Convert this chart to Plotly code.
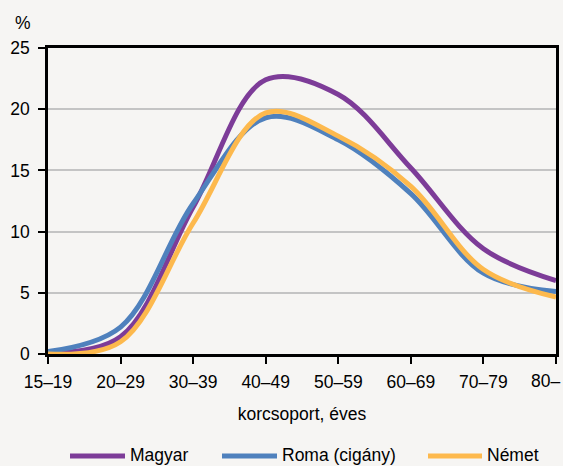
import plotly.graph_objects as go

categories = ["15–19", "20–29", "30–39", "40–49", "50–59", "60–69", "70–79", "80–"]
magyar = [0.1, 1.4, 12.0, 22.4, 21.2, 15.2, 8.6, 6.0]
roma = [0.2, 2.2, 12.3, 19.3, 17.5, 13.1, 6.6, 5.1]
nemet = [0.0, 1.0, 10.7, 19.7, 17.8, 13.7, 6.9, 4.65]

series = [("Magyar", magyar, "#7D3C98"),
          ("Roma (cigány)", roma, "#4F81BD"),
          ("Német", nemet, "#FDB94D")]

bg = "#F6F5F3"
font = "Liberation Sans, Arial, sans-serif"
fs = 17.5

# plot area in pixels (for converting layout positions to paper coords)
L, R, T, B = 48, 556, 48, 354
def px(xp):
    return (xp - L) / (R - L)
def py(yp):
    return (B - yp) / (B - T)

fig = go.Figure()
for name, vals, col in series:
    fig.add_trace(go.Scatter(
        x=list(range(len(categories))), y=vals, name=name, mode="lines",
        line=dict(color=col, width=5, shape="spline", smoothing=1.0),
        hoverinfo="skip", showlegend=False))

# legend drawn manually to match the original spacing
legend_pos = [(70, 125, 128), (222, 277, 280), (428, 482, 485)]
legend_y = 456
shapes = []
annotations = [dict(text="%", x=px(23), y=py(23), xref="paper", yref="paper",
                    xanchor="center", yanchor="middle", showarrow=False,
                    font=dict(size=fs))]
for (name, _, col), (x0, x1, xt) in zip(series, legend_pos):
    shapes.append(dict(type="line", xref="paper", yref="paper",
                       x0=px(x0), x1=px(x1), y0=py(legend_y), y1=py(legend_y),
                       line=dict(color=col, width=5)))
    annotations.append(dict(text=name, x=px(xt), y=py(legend_y - 1), xref="paper",
                            yref="paper", xanchor="left", yanchor="middle",
                            showarrow=False, font=dict(size=fs)))

# last category label is shifted left so it fits inside the figure (as in the original)
annotations.append(dict(text=categories[-1], x=px(562), y=py(381), xref="paper",
                        yref="paper", xanchor="right", yanchor="middle",
                        showarrow=False, font=dict(size=fs)))
ticktext = categories[:-1] + [""]

fig.update_layout(
    width=563, height=466,
    paper_bgcolor=bg, plot_bgcolor=bg,
    margin=dict(l=L, r=563 - R, t=T, b=466 - B),
    font=dict(family=font, size=fs, color="#000000"),
    showlegend=False,
    shapes=shapes,
    annotations=annotations,
)

fig.update_xaxes(
    range=[0, 7], tickmode="array", tickvals=list(range(len(categories))),
    ticktext=ticktext, ticks="outside", ticklen=7, tickwidth=1.5, tickcolor="#000000",
    showline=True, linewidth=2.5, linecolor="#000000", mirror=True,
    showgrid=False, zeroline=False, automargin=False, ticklabelstandoff=3,
    title=dict(text="korcsoport, éves", standoff=17, font=dict(size=fs)),
    tickfont=dict(size=fs))
fig.update_yaxes(
    range=[0, 25], dtick=5, ticks="outside", ticklen=7, tickwidth=1.5, tickcolor="#000000",
    showline=True, linewidth=2.5, linecolor="#000000", mirror=True,
    showgrid=True, gridcolor="#C4C4C4", gridwidth=1.5, zeroline=False,
    automargin=False, ticklabelstandoff=5, tickfont=dict(size=fs))

fig.write_html("out.html", config={"displayModeBar": False},
               post_script="document.body.style.margin='0';document.body.style.padding='0';"
                           "document.body.style.overflow='hidden';")
